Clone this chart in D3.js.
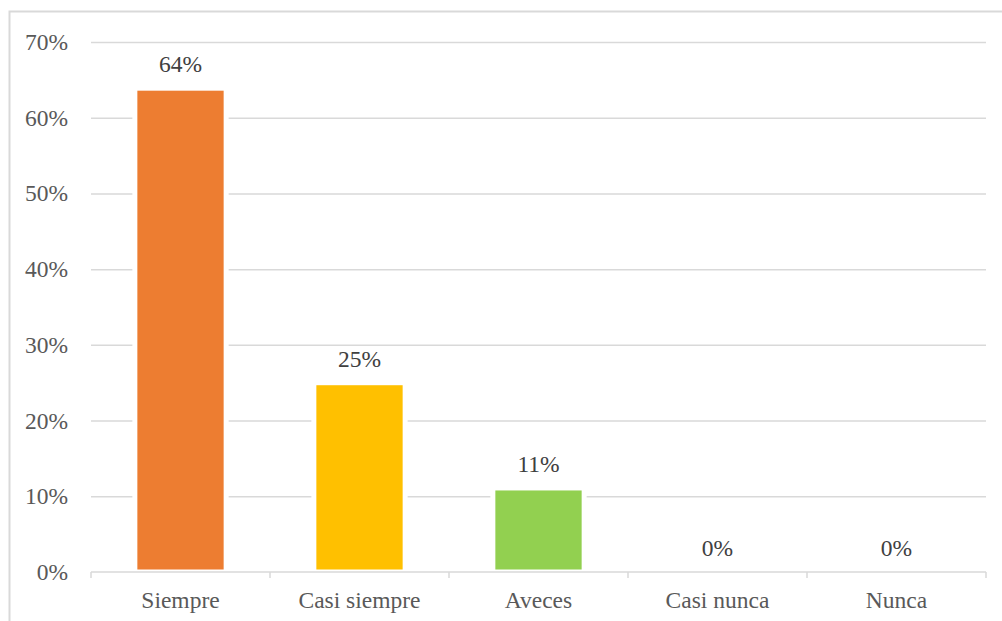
<!DOCTYPE html>
<html>
<head>
<meta charset="utf-8">
<script src="https://cdn.jsdelivr.net/npm/d3@7"></script>
<style>
  body { margin: 0; background: #fff; }
</style>
</head>
<body>
<div id="chart"></div>
<script>
// data
const categories = ["Siempre", "Casi siempre", "Aveces", "Casi nunca", "Nunca"];
const values = [0.639, 0.25, 0.111, 0, 0];
const labels = ["64%", "25%", "11%", "0%", "0%"];
const colors = ["#ED7D31", "#FFC000", "#92D050", "#5B9BD5", "#4472C4"];
const yTicks = [0, 0.1, 0.2, 0.3, 0.4, 0.5, 0.6, 0.7];

const FONT = "Liberation Serif, serif";
const FS = "23.5px";

function drawChart() {
    const W = 1002, H = 621;
    const margin = {l: 91, r: 16, t: 42, b: 49};
    const width = W - margin.l - margin.r;
    const height = H - margin.t - margin.b;

    let outerSvg = d3.select("#chart").append("svg")
        .attr("width", W)
        .attr("height", H)
        .attr("font-family", FONT);

    // chart frame (only top and left edges show)
    outerSvg.append("rect")
        .attr("x", 9.5).attr("y", 11.5)
        .attr("width", W + 20).attr("height", H + 20)
        .attr("fill", "none")
        .attr("stroke", "#d9d9d9")
        .attr("stroke-width", 2);

    let svg = outerSvg.append("g")
        .attr("transform", `translate(${margin.l},${margin.t})`);

    let x = d3.scaleBand().domain(categories).range([0, width])
        .paddingInner(0.49).paddingOuter(0.245);
    let y = d3.scaleLinear().domain([0, 0.7]).range([height, 0]);

    // gridlines + y labels
    let yAxis = d3.axisLeft(y).tickValues(yTicks)
        .tickFormat(d3.format(".0%"))
        .tickSize(-width).tickPadding(23);
    let gy = svg.append("g").call(yAxis);
    gy.attr("font-family", FONT).attr("font-size", FS);
    gy.select(".domain").remove();
    gy.selectAll(".tick line")
        .attr("stroke", "#d9d9d9").attr("stroke-width", 1.5)
        .filter(d => d === 0).remove();
    gy.selectAll(".tick text")
        .attr("font-family", FONT)
        .attr("font-size", FS)
        .attr("fill", "#595959");

    // bars with white outline, like the original
    svg.selectAll(".bar")
        .data(values)
        .enter().append("rect")
        .attr("class", "bar")
        .attr("x", (d, i) => x(categories[i]))
        .attr("y", d => y(d))
        .attr("width", x.bandwidth())
        .attr("height", d => height - y(d))
        .attr("fill", (d, i) => colors[i])
        .attr("stroke", (d) => d > 0 ? "#fff" : "none")
        .attr("stroke-width", 5);

    // x axis with category separators
    let step = x.step();
    let g = svg.append("g").attr("transform", `translate(0,${height})`);
    g.append("line")
        .attr("x1", 0).attr("x2", width)
        .attr("stroke", "#d9d9d9").attr("stroke-width", 1.5);
    g.selectAll(".sep")
        .data(d3.range(categories.length + 1))
        .enter().append("line")
        .attr("x1", i => i * step).attr("x2", i => i * step)
        .attr("y1", 0).attr("y2", 6)
        .attr("stroke", "#d9d9d9").attr("stroke-width", 1.5);
    g.selectAll(".cat")
        .data(categories)
        .enter().append("text")
        .attr("x", d => x(d) + x.bandwidth() / 2)
        .attr("y", 36)
        .attr("text-anchor", "middle")
        .attr("fill", "#595959")
        .attr("font-family", FONT)
        .attr("font-size", FS)
        .text(d => d);

    // data labels
    svg.selectAll(".lbl")
        .data(values)
        .enter().append("text")
        .attr("x", (d, i) => x(categories[i]) + x.bandwidth() / 2)
        .attr("y", d => y(d) - 16)
        .attr("text-anchor", "middle")
        .attr("fill", "#404040")
        .attr("font-family", FONT)
        .attr("font-size", FS)
        .text((d, i) => labels[i]);
}

drawChart();
</script>
</body>
</html>
